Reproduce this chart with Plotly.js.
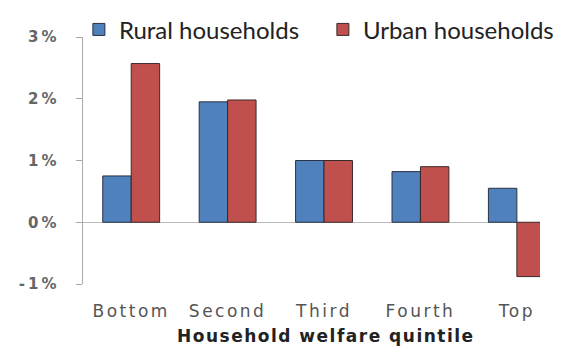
<!DOCTYPE html>
<html><head><meta charset="utf-8">
<script src="https://cdn.plot.ly/plotly-3.0.1.min.js"></script>
<style>
html,body{margin:0;padding:0;background:#fff;}
.xtick text{letter-spacing:2.5px;}
.ytick text{letter-spacing:3px;}
.annotation-text{letter-spacing:1.5px;}
</style>
</head><body>
<div id="chart" style="width:561px;height:347px;"></div>
<script>
const categories = ['Bottom', 'Second', 'Third', 'Fourth', 'Top'];
const ruralValues = [0.75, 1.95, 1.0, 0.82, 0.55];
const urbanValues = [2.57, 1.98, 1.0, 0.90, -0.88];
const seriesNames = ['Rural households', 'Urban households'];
const yTickValues = [-1, 0, 1, 2, 3];
const yTickLabels = ['-1%', '0%', '1%', '2%', '3%'];
const xTitle = 'Household welfare quintile';

const traces = [
  {type: 'bar', name: seriesNames[0], x: categories, y: ruralValues,
   marker: {color: '#4F81BD', line: {color: '#2b3140', width: 1}}},
  {type: 'bar', name: seriesNames[1], x: categories, y: urbanValues,
   marker: {color: '#C0504D', line: {color: '#3a2a2a', width: 1}}}
];

const layout = {
  width: 561, height: 347,
  margin: {l: 83, r: 21, t: 37, b: 63, pad: 0, autoexpand: false},
  paper_bgcolor: '#fff', plot_bgcolor: '#fff',
  barmode: 'group', bargap: 0.41, bargroupgap: 0,
  showlegend: true,
  legend: {orientation: 'h', x: -0.009, xanchor: 'left', y: 1.029, yanchor: 'middle',
           font: {family: 'Lato, sans-serif', size: 24, color: '#222'},
           itemwidth: 30, entrywidth: 199, bgcolor: 'rgba(0,0,0,0)', traceorder: 'normal'},
  xaxis: {type: 'category', range: [-0.5, 4.24], showline: false, showgrid: false,
          zeroline: false, ticks: '', ticklabelstandoff: 15,
          tickfont: {family: 'DejaVu Sans, sans-serif', size: 17, color: '#555'}},
  yaxis: {range: [-1, 3], tickvals: yTickValues, ticktext: yTickLabels,
          showgrid: false, showline: true, linecolor: '#aaa', linewidth: 1.5,
          ticks: 'outside', ticklen: 6, tickcolor: '#aaa', ticklabelstandoff: 13,
          zeroline: true, zerolinecolor: '#bbb', zerolinewidth: 1.5,
          tickfont: {family: 'DejaVu Sans, sans-serif', size: 15, color: '#666', weight: 'bold'}},
  annotations: [
    {text: xTitle, xref: 'paper', yref: 'paper', x: (326 - 83) / 457, y: -0.21,
     xanchor: 'center', yanchor: 'middle', showarrow: false,
     font: {family: 'DejaVu Sans, sans-serif', size: 17, color: '#222', weight: 'bold'}}
  ]
};

Plotly.newPlot('chart', traces, layout, {displayModeBar: false, staticPlot: true});
</script>
</body></html>
